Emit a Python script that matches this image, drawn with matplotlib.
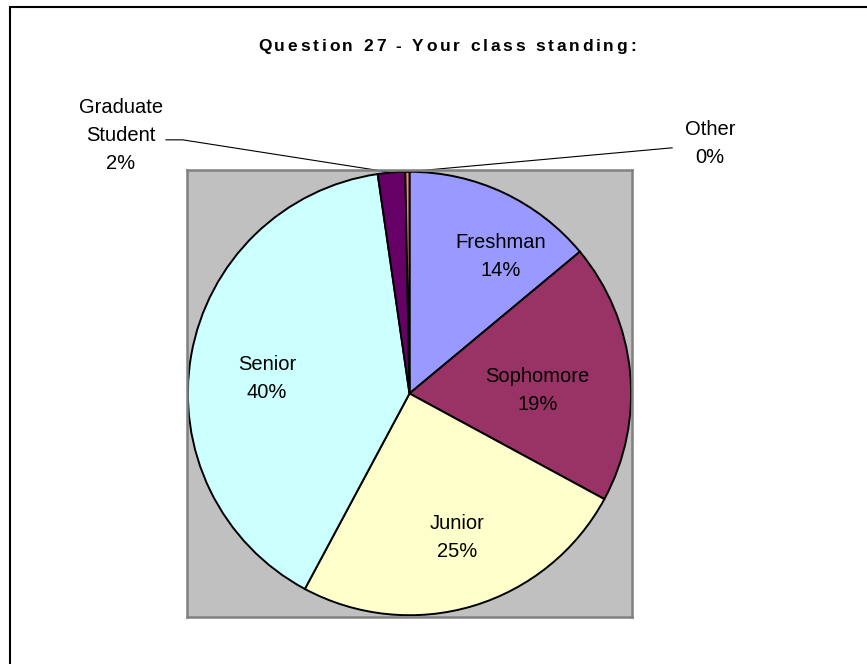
import matplotlib
matplotlib.use("Agg")
import matplotlib.pyplot as plt
from matplotlib.patches import Rectangle
from matplotlib.font_manager import FontProperties
import numpy as np

plt.rcParams['font.family'] = ['Liberation Sans', 'DejaVu Sans']

# Survey responses (percent of respondents)
categories = ["Freshman", "Sophomore", "Junior", "Senior", "Graduate\nStudent", "Other"]
percents = [14, 19, 25, 40, 2, 0.3]
colors = ["#9999FF", "#993366", "#FFFFCC", "#CCFFFF", "#660066", "#FF8080"]
title = "Question 27 - Your class standing:"

W, H, DPI = 867, 664, 100
fig = plt.figure(figsize=(W / DPI, H / DPI), dpi=DPI)
fig.patch.set_facecolor("white")

# outer chart-area frame (right/bottom edges run off the canvas)
fig.patches.append(Rectangle((9.5 / W, -0.05), 1.2, 1 - 6.5 / H + 0.05,
                             transform=fig.transFigure, fill=False,
                             edgecolor="#000000", linewidth=1.5))

# plot area
ax = fig.add_axes([187 / W, 47 / H, 445 / W, 447 / H])

wedges, _ = ax.pie(percents, colors=colors, startangle=90, counterclock=False,
                   radius=1.0, wedgeprops=dict(edgecolor="black", linewidth=1.4))
ax.set_frame_on(True)
ax.patch.set_visible(True)
ax.set_facecolor("#C0C0C0")
for s in ax.spines.values():
    s.set_visible(True)
    s.set_edgecolor("#808080")
    s.set_linewidth(1.8)
ax.set_xticks([])
ax.set_yticks([])
ax.set_xlim(-1.004, 1.004)
ax.set_ylim(-1.008, 1.008)
ax.set_aspect("auto")

fs = 14.5
ls = 1.6
labels = [f"{c}\n{round(p)}%" for c, p in zip(categories, percents)]

# label anchors for the inside labels (axes data units)
inside_pos = [(0.41, 0.62), (0.577, 0.014), (0.216, -0.649), (-0.644, 0.068)]
for i, (x, y) in enumerate(inside_pos):
    ax.text(x, y, labels[i], ha="center", va="center", fontsize=fs,
            linespacing=ls, color="black")

def wedge_edge(w):
    a = np.deg2rad((w.theta1 + w.theta2) / 2)
    return np.cos(a), np.sin(a)

# Graduate Student label with leader line
gx, gy = wedge_edge(wedges[4])
ax.text(-1.302, 1.162, labels[4], ha="center", va="center", fontsize=fs,
        linespacing=ls, clip_on=False)
ax.plot([-1.099, -1.023, gx], [1.144, 1.144, gy], color="black", lw=0.8,
        clip_on=False)

# Other label with leader line
ox, oy = wedge_edge(wedges[5])
ax.text(1.356, 1.126, labels[5], ha="center", va="center", fontsize=fs,
        linespacing=ls, clip_on=False)
ax.plot([1.185, ox], [1.108, oy], color="black", lw=0.8, clip_on=False)

# letter-spaced bold title, placed glyph by glyph
tfs = 12.5
tprops = FontProperties(family="Liberation Sans", weight="bold", size=tfs)
renderer = fig.canvas.get_renderer()

def text_w(s):
    w, _, _ = renderer.get_text_width_height_descent(s, tprops, ismath=False)
    return w

bar_w = text_w("||")
widths = [text_w("|" + ch + "|") - bar_w for ch in title]
target_width = 378
spacing = (target_width - sum(widths)) / (len(title) - 1)
x = 447 - target_width / 2
ybase = H - 51
for ch, w in zip(title, widths):
    if ch != " ":
        fig.text(x / W, ybase / H, ch, fontproperties=tprops,
                 ha="left", va="baseline")
    x += w + spacing

fig.savefig("out.png", dpi=DPI, facecolor="white")
